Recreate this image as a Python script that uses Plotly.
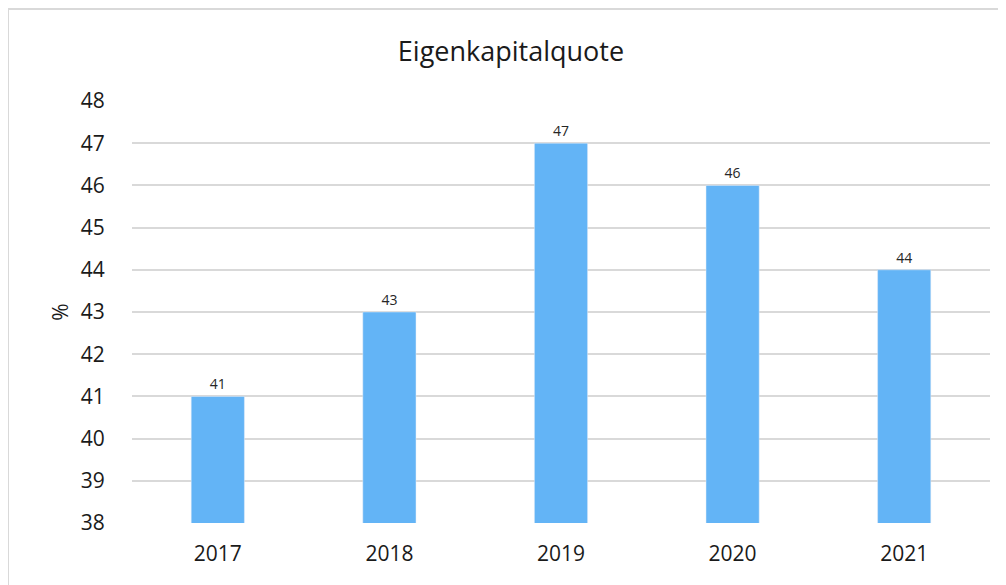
import plotly.graph_objects as go

years = ["2017", "2018", "2019", "2020", "2021"]
quote = [41, 43, 47, 46, 44]
y_ticks = list(range(38, 49))

bar_color = "#63B4F6"
grid_color = "#D9D9D9"
font_family = "Open Sans"

fig = go.Figure()
fig.add_trace(go.Bar(
    x=years,
    y=quote,
    marker_color=bar_color,
    width=0.31,
    text=quote,
    textposition="outside",
    textfont=dict(size=14, color="#262626"),
    cliponaxis=False,
))

fig.update_layout(
    width=1006, height=585,
    margin=dict(l=124, r=24, t=93, b=70),
    plot_bgcolor="white",
    paper_bgcolor="white",
    showlegend=False,
    font=dict(family=font_family, color="#1a1a1a"),
    title=dict(
        text="Eigenkapitalquote",
        x=0.5, xanchor="center",
        y=0.926, yanchor="middle",
        font=dict(size=27),
    ),
    # chart border (only left and top edges fall inside the window)
    shapes=[dict(
        type="rect", xref="paper", yref="paper",
        x0=-124 / 858, x1=1 + 23 / 858,
        y0=-69 / 422, y1=1 + 92 / 422,
        line=dict(color=grid_color, width=2),
    )],
)
fig.update_xaxes(
    type="category",
    showgrid=False, zeroline=False,
    ticks="outside", ticklen=12, tickcolor="rgba(0,0,0,0)",
    tickfont=dict(size=21),
)
fig.update_yaxes(
    range=[38, 48], tickvals=y_ticks,
    showgrid=True, gridcolor=grid_color, gridwidth=2,
    zeroline=False,
    ticks="outside", ticklen=22, tickcolor="rgba(0,0,0,0)",
    tickfont=dict(size=21),
    title=dict(text="%", font=dict(size=21), standoff=6),
)

fig.write_html("out.html")
